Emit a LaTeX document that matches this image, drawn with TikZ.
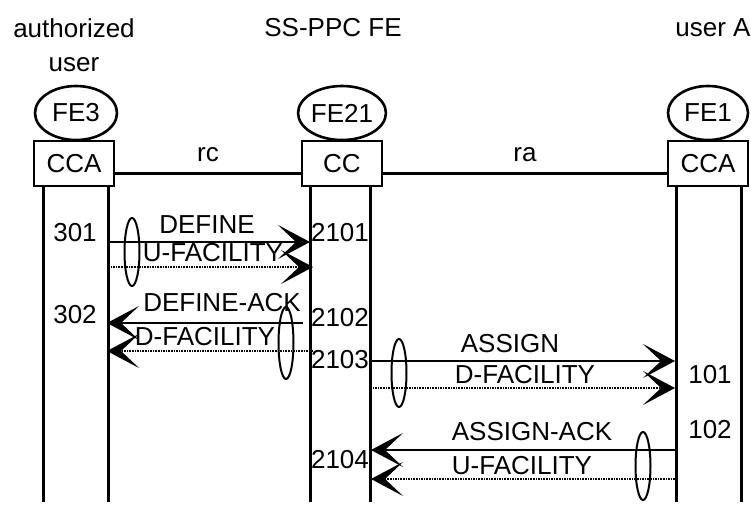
\documentclass[tikz,border=0pt]{standalone}
\usepackage{fontspec}
\setmainfont{Liberation Sans}
\usetikzlibrary{arrows.meta,shapes.geometric}
\tikzset{
  msc box/.style={draw, line width=1.4pt, minimum width=40pt, minimum height=22.5pt, inner sep=0pt, font=\fontsize{13}{15}\selectfont},
  msc fe/.style={ellipse, draw, line width=1.3pt, minimum width=40pt, minimum height=27pt, inner sep=0pt, font=\fontsize{13}{15}\selectfont},
  msc life/.style={line width=1.5pt},
  msc link/.style={line width=1.5pt},
  msc msg/.style={line width=1pt, -{Stealth[length=16pt,width=17pt,inset=9pt]}},
  msc dots/.style={msc msg, line width=1.3pt, dash pattern=on 0.8pt off 0.5pt},
  msc group/.style={ellipse, draw, line width=1pt, minimum width=7.5pt, minimum height=34pt, inner sep=0pt},
  msc label/.style={font=\fontsize{13}{17}\selectfont, inner sep=0pt},
}

\begin{document}
\begin{tikzpicture}[x=0.5pt, y=-0.5pt]
  \useasboundingbox (0,0) rectangle (751,509);

  % Entity titles
  \node[msc label, align=center] (ttl3) at (74,45) {authorized\\user};
  \node[msc label] (ttl21) at (333,28) {SS-PPC FE};
  \node[msc label, anchor=east] (ttl1) at (751,28) {user A};

  % Functional entities
  \node[msc fe, minimum width=41pt] (fe3) at (76,113) {FE3};
  \node[msc fe] (fe21) at (342,113) {FE21};
  \node[msc fe] (fe1) at (708,113) {FE1};

  \node[msc box] (cca3) at (74,163.5) {CCA};
  \node[msc box] (cc) at (342,163.5) {CC};
  \node[msc box] (cca1) at (708,163.5) {CCA};

  % Relationships
  \draw[msc link] ([yshift=-5pt]cca3.east) -- node[msc label, above=5pt] (rc) {rc} ([yshift=-5pt]cc.west);
  \draw[msc link] ([yshift=-5pt]cc.east) -- node[msc label, above=5pt] (ra) {ra} ([yshift=-5pt]cca1.west);

  % Lifelines
  \foreach \x in {43,108,310,370,676,741}
    \draw[msc life] (\x,186) -- (\x,502);

  % Message end points
  \coordinate (def a) at (108,242);   \coordinate (def b) at (310,242);
  \coordinate (uf a) at (108,267);    \coordinate (uf b) at (313,267);
  \coordinate (dack a) at (303,323);  \coordinate (dack b) at (107,323);
  \coordinate (df a) at (313,351);    \coordinate (df b) at (107,351);
  \coordinate (asg a) at (370,361);   \coordinate (asg b) at (675,361);
  \coordinate (df2 a) at (370,388);   \coordinate (df2 b) at (675,388);
  \coordinate (aack a) at (675,450);  \coordinate (aack b) at (371,450);
  \coordinate (uf2 a) at (675,479);   \coordinate (uf2 b) at (371,479);

  % Messages
  \draw[msc msg] (def a) -- (def b);
  \draw[msc dots] (uf a) -- (uf b);
  \draw[msc msg] (dack a) -- (dack b);
  \draw[msc dots] (df a) -- (df b);
  \draw[msc msg] (asg a) -- (asg b);
  \draw[msc dots] (df2 a) -- (df2 b);
  \draw[msc msg] (aack a) -- (aack b);
  \draw[msc dots] (uf2 a) -- (uf2 b);

  \node[msc label] (t def) at (207,225) {DEFINE};
  \node[msc label] (t uf) at (213,253) {U-FACILITY};
  \node[msc label] (t dack) at (222,303) {DEFINE-ACK};
  \node[msc label] (t df) at (205,337) {D-FACILITY};
  \node[msc label] (t asg) at (510,344) {ASSIGN};
  \node[msc label] (t df2) at (525,375) {D-FACILITY};
  \node[msc label] (t aack) at (532,432) {ASSIGN-ACK};
  \node[msc label] (t uf2) at (522,466) {U-FACILITY};

  % Grouping ellipses
  \node[msc group] (g1) at (132,252) {};
  \node[msc group, minimum height=36pt] (g2) at (286,343) {};
  \node[msc group] (g3) at (399,373) {};
  \node[msc group] (g4) at (643,466) {};

  % Step numbers
  \node[msc label] (n301) at (75,233) {301};
  \node[msc label] (n302) at (75,315) {302};
  \node[msc label] (n2101) at (340,233) {2101};
  \node[msc label] (n2102) at (340,318) {2102};
  \node[msc label] (n2103) at (340,360) {2103};
  \node[msc label] (n2104) at (340,460) {2104};
  \node[msc label] (n101) at (710,375) {101};
  \node[msc label] (n102) at (710,430) {102};
\end{tikzpicture}
\end{document}
